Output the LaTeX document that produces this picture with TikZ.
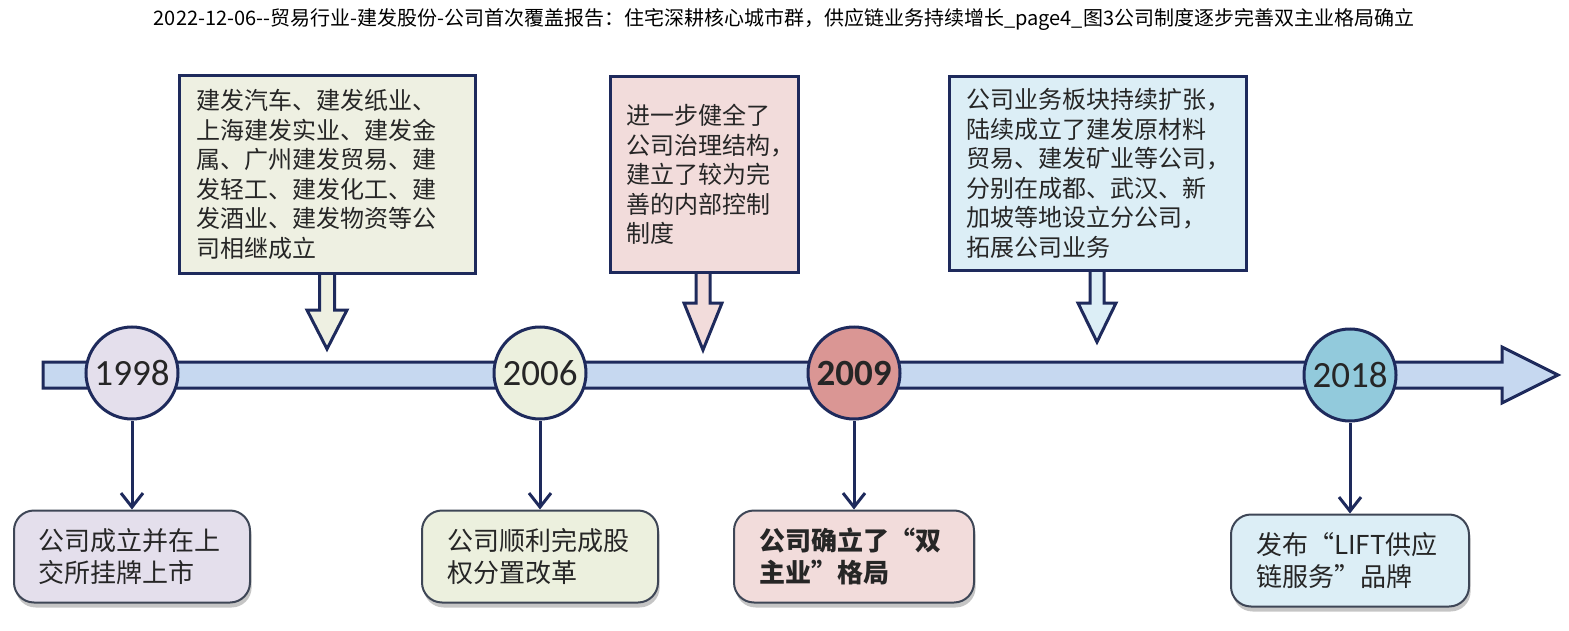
\documentclass[tikz,border=0pt]{standalone}
\usepackage{fontspec}
\setmainfont{Noto Sans CJK SC}
\newfontfamily\yearfont{Carlito}
\usetikzlibrary{positioning,calc,shadows,arrows.meta,backgrounds}

\definecolor{navy}{RGB}{30,42,92}
\definecolor{edgegrey}{RGB}{62,70,86}
\definecolor{barblue}{RGB}{198,216,240}
\definecolor{c1998}{RGB}{228,223,236}
\definecolor{c2006}{RGB}{236,240,222}
\definecolor{c2009}{RGB}{218,150,148}
\definecolor{c2018}{RGB}{146,202,220}
\definecolor{topA}{RGB}{238,240,226}
\definecolor{topB}{RGB}{242,220,219}
\definecolor{topC}{RGB}{220,238,246}

\tikzset{
  year/.style={circle, draw=navy, line width=1.5pt, minimum size=46pt, inner sep=0pt,
    font=\yearfont\fontsize{18.5}{20}\selectfont, text=black!85},
  topbox/.style={rectangle, draw=navy, line width=1.5pt, anchor=north west, align=left,
    inner xsep=8.5pt, font=\fontsize{12}{14.75}\selectfont, text=black!85},
  endbox/.style={rectangle, rounded corners=10pt, draw=edgegrey, line width=1pt, align=left,
    inner xsep=12.5pt, minimum height=46pt, text width=93pt,
    font=\fontsize{13}{16}\selectfont, text=black!85,
    drop shadow={shadow xshift=0.8pt, shadow yshift=-2.5pt, fill=black!45, opacity=0.5}},
  link/.style={draw=navy, line width=1.5pt, -{Straight Barb[length=7pt,width=11pt]}},
  ptr/.style={draw=navy, line width=1.5pt, line join=miter}
}

\begin{document}
\begin{tikzpicture}[x=0.5pt,y=-0.5pt]

	\useasboundingbox (0,0) rectangle (1569,631);

	\node[font=\fontsize{10}{12}\selectfont] (title) at (784,20)
		{2022-12-06-{}-贸易行业-建发股份-公司首次覆盖报告：住宅深耕核心城市群，供应链业务持续增长\_page4\_图3公司制度逐步完善双主业格局确立};

	% timeline
	\draw[ptr, fill=barblue] (43,362) -- (1502,362) -- (1502,347) -- (1558,375)
		-- (1502,403) -- (1502,388) -- (43,388) -- cycle;

	\node[year, fill=c1998] (y1998) at (132,373) {1998};
	\node[year, fill=c2006] (y2006) at (540,373) {2006};
	\node[year, fill=c2009] (y2009) at (854,373) {\bfseries 2009};
	\node[year, fill=c2018] (y2018) at (1350,375) {2018};

	% callouts above
	\node[topbox, fill=topA, text width=131pt, minimum height=99pt] (boxA) at (178,74)
		{建发汽车、建发纸业、\\上海建发实业、建发金\\属、广州建发贸易、建\\发轻工、建发化工、建\\发酒业、建发物资等公\\司相继成立};
	\node[topbox, fill=topB, text width=78pt, minimum height=98pt, inner xsep=8pt] (boxB) at (609,75)
		{进一步健全了\\公司治理结构，\\建立了较为完\\善的内部控制\\制度};
	\node[topbox, fill=topC, text width=131.5pt, minimum height=97pt] (boxC) at (948,75)
		{公司业务板块持续扩张，\\陆续成立了建发原材料\\贸易、建发矿业等公司，\\分别在成都、武汉、新\\加坡等地设立分公司，\\拓展公司业务};

	\coordinate (tipA) at (327,349);
	\coordinate (tipB) at (703,350);
	\coordinate (tipC) at (1097,342);

	\begin{scope}[on background layer]
	\filldraw[ptr, fill=topA] ($(boxA.south-|tipA)+(-7.5,0)$) -- ($(tipA)+(-7.5,-39)$) -- ($(tipA)+(-20,-39)$)
		-- (tipA) -- ($(tipA)+(20,-39)$) -- ($(tipA)+(7.5,-39)$) -- ($(boxA.south-|tipA)+(7.5,0)$);
	\filldraw[ptr, fill=topB] ($(boxB.south-|tipB)+(-7,0)$) -- ($(tipB)+(-7,-47)$) -- ($(tipB)+(-19,-47)$)
		-- (tipB) -- ($(tipB)+(19,-47)$) -- ($(tipB)+(7,-47)$) -- ($(boxB.south-|tipB)+(7,0)$);
	\filldraw[ptr, fill=topC] ($(boxC.south-|tipC)+(-7,0)$) -- ($(tipC)+(-7,-39)$) -- ($(tipC)+(-19,-39)$)
		-- (tipC) -- ($(tipC)+(19,-39)$) -- ($(tipC)+(7,-39)$) -- ($(boxC.south-|tipC)+(7,0)$);
	\end{scope}

	% events below
	\node[endbox, fill=c1998, below=44.5pt of y1998] (ev1998) {公司成立并在上\\交所挂牌上市};
	\node[endbox, fill=c2006, below=44.5pt of y2006] (ev2006) {公司顺利完成股\\权分置改革};
	\node[endbox, fill=topB, text width=95pt, below=44.5pt of y2009, font=\fontsize{13}{16}\selectfont\bfseries] (ev2009) {公司确立了“双\\主业”格局};
	\node[endbox, fill=topC, text width=94pt, below=45.5pt of y2018] (ev2018) {发布“LIFT供应\\链服务”品牌};

	\draw[link] (y1998) -- (ev1998);
	\draw[link] (y2006) -- (ev2006);
	\draw[link] (y2009) -- (ev2009);
	\draw[link] (y2018) -- (ev2018);

\end{tikzpicture}
\end{document}
